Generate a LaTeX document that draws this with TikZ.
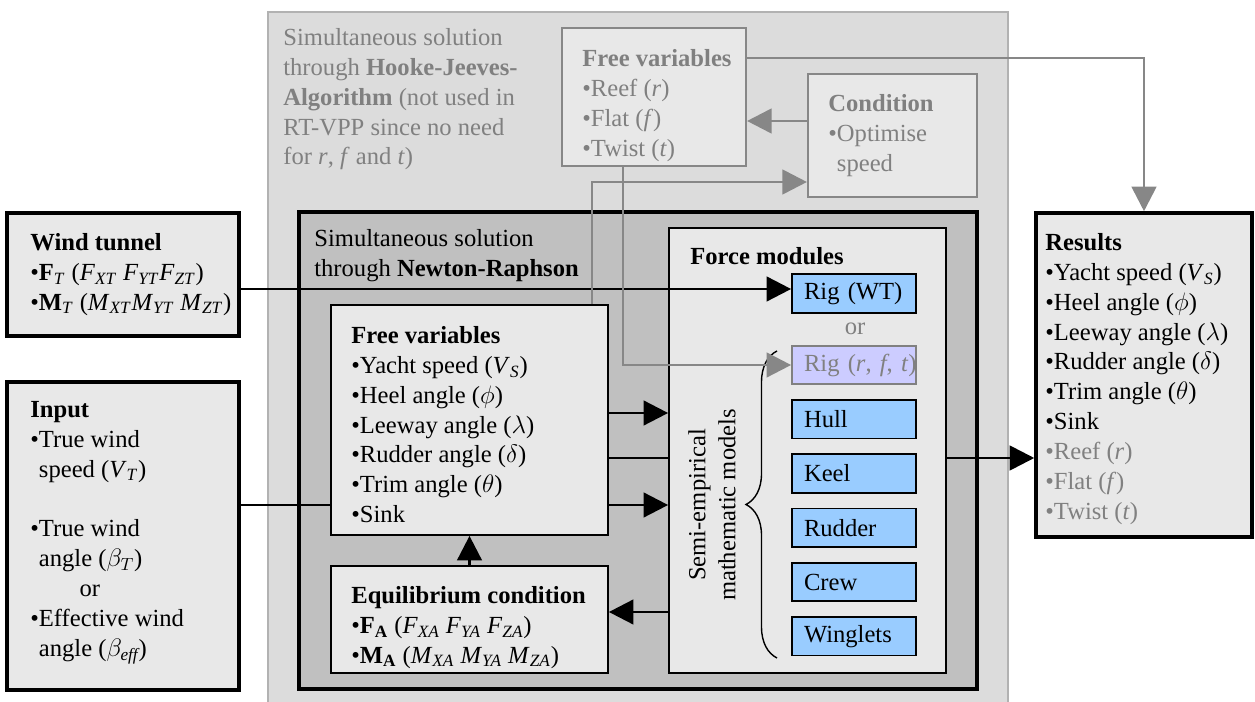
\documentclass[tikz,border=0pt]{standalone}
\usepackage{fontspec}
\setmainfont{Liberation Serif}
\usetikzlibrary{positioning,fit,arrows.meta,decorations.pathreplacing}

\definecolor{hjfill}{HTML}{DCDCDC}
\definecolor{hjedge}{HTML}{B2B2B2}
\definecolor{hjline}{HTML}{878787}
\definecolor{nrfill}{HTML}{C0C0C0}
\definecolor{boxfill}{HTML}{E8E8E8}
\definecolor{modfill}{HTML}{99CCFF}
\definecolor{rigfill}{HTML}{CCCCFF}
\definecolor{txtgray}{HTML}{808080}

\newcommand{\lbl}{\fontsize{14}{17}\selectfont}
\newcommand{\vs}[2]{\textit{#1}\textsubscript{\textit{#2}}}
\newcommand{\ind}{\phantom{\textbullet}}

\tikzset{
  thickbox/.style={draw=black, line width=2pt, fill=boxfill, inner sep=0pt},
  thinbox/.style={draw=black, line width=1pt, fill=boxfill, inner sep=0pt},
  hjbox/.style={draw=hjline, line width=1.2pt, fill=boxfill, inner sep=0pt},
  txt/.style={anchor=north west, align=left, inner sep=0pt},
  module/.style={draw=black, line width=1pt, fill=modfill, text width=2cm,
    inner xsep=0.24cm, inner ysep=0pt, minimum height=0.77cm, align=left},
  flow/.style={line width=1.6pt, -{Triangle[length=14pt,width=14pt]}},
  gflow/.style={flow, draw=hjline}
}

\begin{document}
\begin{tikzpicture}[x=0.02cm, y=-0.02cm, font=\lbl]
\useasboundingbox (0,0) rectangle (1255,702);

% Hooke-Jeeves frame
\node[draw=hjedge, fill=hjfill, line width=1.5pt, inner sep=0pt,
  fit={(268,12) (1008,712)}] (hj) {};
\node[txt, text=txtgray] (hj-t) at (283,28) {Simultaneous solution\\
  through \textbf{Hooke-Jeeves-}\\
  \textbf{Algorithm} (not used in\\
  RT-VPP since no need\\
  for \textit{r}, \textit{f} and \textit{t})};
\node[hjbox, fit={(562,28) (746,166)}] (fvhj) {};
\node[txt, text=txtgray] (fvhj-t) at (582,49) {\textbf{Free variables}\\
  \textbullet Reef (\textit{r})\\
  \textbullet Flat (\textit{f})\\
  \textbullet Twist (\textit{t})};
\node[hjbox, fit={(808,74) (977,197)}] (cond) {};
\node[txt, text=txtgray] (cond-t) at (828,94) {\textbf{Condition}\\
  \textbullet Optimise\\
  \ind speed};

% Newton-Raphson frame
\node[draw=black, fill=nrfill, line width=2pt, inner sep=0pt,
  fit={(299,212) (977,689)}] (nr) {};
\node[txt] (nr-t) at (314,229) {Simultaneous solution\\
  through \textbf{Newton-Raphson}};

\node[thinbox, fit={(331,305) (608,535)}] (fv) {};
\node[txt] (fv-t) at (351,326) {\textbf{Free variables}\\
  \textbullet Yacht speed (\vs{V}{S})\\
  \textbullet Heel angle ($\phi$)\\
  \textbullet Leeway angle ($\lambda$)\\
  \textbullet Rudder angle ($\delta$)\\
  \textbullet Trim angle ($\theta$)\\
  \textbullet Sink};
\node[thinbox, fit={(331,566) (608,673)}] (eq) {};
\node[txt] (eq-t) at (351,586) {\textbf{Equilibrium condition}\\
  \textbullet\textbf{F}\textsubscript{\textbf{A}} (\vs{F}{XA} \vs{F}{YA} \vs{F}{ZA})\\
  \textbullet\textbf{M}\textsubscript{\textbf{A}} (\vs{M}{XA} \vs{M}{YA} \vs{M}{ZA})};

% force modules
\node[thinbox, fit={(669,228) (946,673)}] (fm) {};
\node[txt] (fm-t) at (690,247) {\textbf{Force modules}};
\node[module] (rigwt) at (854,293.5) {Rig (WT)};
\node[text=txtgray] (or) at (855,329) {or};
\node[module, draw=txtgray, fill=rigfill, text=txtgray] (rigrft) at (854,365)
  {\mbox{Rig (\textit{r}, \textit{f}, \textit{t})}};
\node[module, below=0.28cm of rigrft] (hull) {Hull};
\node[module, below=0.28cm of hull] (keel) {Keel};
\node[module, below=0.28cm of keel] (rudder) {Rudder};
\node[module, below=0.28cm of rudder] (crew) {Crew};
\node[module, below=0.28cm of crew] (winglets) {Winglets};
\draw[decorate, decoration={brace, amplitude=0.62cm}, line width=0.8pt]
  (777,658) -- (777,351);
\node[rotate=90, align=center] (semi) at (712,505) {Semi-empirical\\mathematic models};

% outside boxes
\node[thickbox, fit={(7,213) (239,336)}] (wt) {};
\node[txt] (wt-t) at (30,233) {\textbf{Wind tunnel}\\
  \textbullet\textbf{F}\textsubscript{\textit{T}} (\vs{F}{XT} \vs{F}{YT}\vs{F}{ZT})\\
  \textbullet\textbf{M}\textsubscript{\textit{T}} (\vs{M}{XT}\vs{M}{YT} \vs{M}{ZT})};
\node[thickbox, fit={(7,382) (239,690)}] (input) {};
\node[txt] (input-t) at (30,401) {\textbf{Input}\\
  \textbullet True wind\\
  \ind speed (\vs{V}{T})\\[17pt]
  \textbullet True wind\\
  \ind angle ($\beta_T$)\\
  \hspace*{28pt}or\\
  \textbullet Effective wind\\
  \ind angle ($\beta_{\mathit{eff}}$)};
\node[thickbox, fit={(1036,213) (1252,537)}] (res) {};
\node[txt] (res-t) at (1045,233) {\textbf{Results}\\
  \textbullet Yacht speed (\vs{V}{S})\\
  \textbullet Heel angle ($\phi$)\\
  \textbullet Leeway angle ($\lambda$)\\
  \textbullet Rudder angle ($\delta$)\\
  \textbullet Trim angle ($\theta$)\\
  \textbullet Sink\\
  \textcolor{txtgray}{\textbullet Reef (\textit{r})}\\
  \textcolor{txtgray}{\textbullet Flat (\textit{f})}\\
  \textcolor{txtgray}{\textbullet Twist (\textit{t})}};

% rows and columns of the connectors
\coordinate (y1) at (0,58);
\coordinate (y2) at (0,121);
\coordinate (y3) at (0,182);
\coordinate (y4) at (0,413);
\coordinate (y5) at (0,458);
\coordinate (y6) at (0,505);
\coordinate (y7) at (0,612);
\coordinate (y8) at (0,289);
\coordinate (x1) at (592,0);
\coordinate (x2) at (623,0);

% connectors
\draw[flow] (wt.east |- y8) -- (rigwt.west |- y8);
\draw[line width=1.6pt] (input.east |- y6) -- (fv.west |- y6);
\draw[flow] (fv.east |- y4) -- (fm.west |- y4);
\draw[line width=1.6pt] (fv.east |- y5) -- (fm.west |- y5);
\draw[flow] (fv.east |- y6) -- (fm.west |- y6);
\draw[flow] (fm.east |- y5) -- (res.west |- y5);
\draw[flow] (fm.west |- y7) -- (eq.east |- y7);
\draw[flow] (eq.north) -- (fv.south);
\draw[gflow] (cond.west |- y2) -- (fvhj.east |- y2);
\draw[gflow] (fvhj.east |- y1) -| (res.north);
\draw[gflow] (fvhj.south -| x2) |- (rigrft.west);
\draw[gflow] (fv.north -| x1) |- (cond.west |- y3);
\end{tikzpicture}
\end{document}
